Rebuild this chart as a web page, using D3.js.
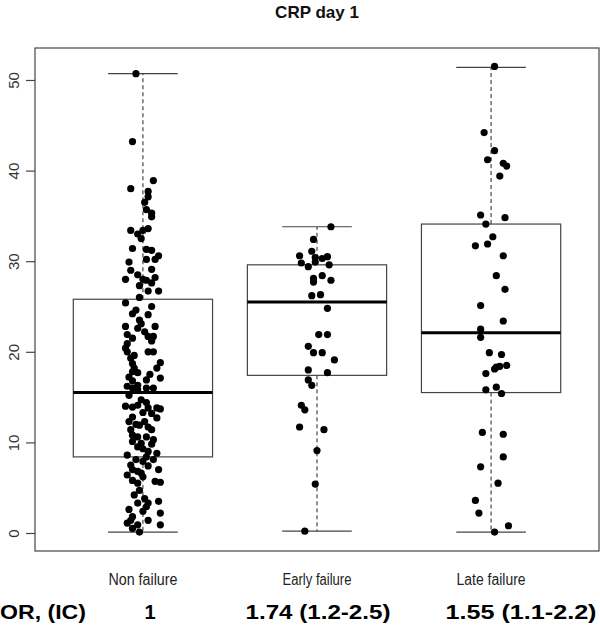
<!DOCTYPE html>
<html><head><meta charset="utf-8">
<script src="https://cdn.jsdelivr.net/npm/d3@7"></script>
<style>html,body{margin:0;padding:0;background:#fff;}</style>
</head><body>
<script>
const title = "CRP day 1";
const categories = ["Non failure", "Early failure", "Late failure"];
const orLabel = "OR, (IC)";
const orValues = ["1", "1.74 (1.2-2.5)", "1.55 (1.1-2.2)"];
const yTicks = [0, 10, 20, 30, 40, 50];

// box statistics: [lowerWhisker, q1, median, q3, upperWhisker]
const statsNon = [0.1, 8.4, 15.5, 25.8, 50.7];
const statsEarly = [0.2, 17.4, 25.5, 29.6, 33.8];
const statsLate = [0.1, 15.5, 22.1, 34.1, 51.4];

// jittered points: values and horizontal jitter (hundredths of a category unit)
const valuesNon = [50.7,43.2,38.9,38.0,37.7,37.1,36.5,35.7,35.3,34.9,33.4,33.6,33.4,33.0,32.5,31.4,31.3,31.2,30.2,30.6,30.2,29.9,29.0,28.5,29.1,28.0,28.0,27.9,28.2,27.3,26.7,26.7,26.0,25.4,25.0,24.2,24.1,23.5,23.1,22.8,22.8,22.6,21.9,21.7,21.7,21.5,21.2,20.9,20.4,20.0,20.0,20.0,19.3,18.7,18.8,18.2,18.2,17.8,17.7,17.2,16.9,17.1,16.8,16.3,16.2,16.0,16.0,16.0,15.8,14.7,14.0,13.9,14.1,13.8,13.8,13.7,13.3,13.2,12.8,12.7,12.3,12.3,11.9,11.7,11.4,11.4,10.8,10.6,10.6,10.1,9.9,9.8,9.5,9.3,9.0,8.6,8.8,8.4,8.1,8.1,7.9,7.5,7.4,7.0,6.8,7.0,6.4,6.2,5.8,5.7,5.5,5.6,4.7,3.8,3.3,3.3,3.5,2.9,2.4,2.2,1.8,1.4,1.1,0.9,0.9,0.5,0.1,1.4,27.6,24.6,22.2,19.6,17.5,15.2,14.4,12.0,10.3,6.6,4.2,2.6];
const jitterNon = [-4,-6,6,-7,3,3,1,2,5,5,-7,3,0,-3,-1,-6,2,5,2,9,7,-8,-7,-3,5,-10,0,2,7,-2,3,9,-2,-10,5,-6,3,-2,-1,-10,7,-3,-9,3,6,-6,5,-9,-10,-9,3,6,-7,-6,10,-5,8,-6,-3,-8,2,10,-6,-3,-9,-6,2,6,-3,-1,-10,-6,-3,3,8,10,0,5,-6,8,-8,1,-2,3,-7,5,-6,-3,2,-6,-1,5,-3,0,3,-9,8,2,-4,6,0,-7,3,-6,-3,9,-9,0,-6,7,-3,10,-2,1,-3,3,9,2,0,10,-6,3,-9,-3,10,-6,-2,-7,5,-4,1,-5,4,-8,2,-4,6,-1,-5,-8];
const valuesEarly = [33.8,32.4,31.1,30.6,30.4,30.3,30.5,29.8,29.4,29.9,29.6,28.1,28.4,27.9,27.7,26.2,26.3,24.8,21.9,21.9,20.6,19.9,19.9,19.1,18.0,17.7,16.9,16.3,14.1,13.6,11.7,11.4,9.1,5.4,0.2];
const jitterEarly = [8,-2,-3,-10,-1,3,6,-9,-5,-1,7,-2,3,8,-2,-3,2,6,1,6,-5,-2,3,10,-5,6,-5,-3,-9,-7,-10,4,0,-1,-7];
const valuesLate = [51.5,44.2,42.2,41.2,40.8,40.5,39.4,35.1,34.8,34.1,32.7,31.7,31.9,30.6,28.4,26.9,25.1,23.4,22.5,21.6,19.9,19.7,17.6,18.1,18.4,18.5,18.3,15.8,16.1,15.4,11.1,10.9,8.4,7.3,5.5,3.6,2.2,0.8,0.1];
const jitterLate = [2,-4,2,-2,7,9,5,-6,8,-3,1,-9,-2,7,3,8,-6,7,-6,-6,-1,6,-3,2,5,9,3,-3,3,6,-5,7,7,-6,4,-9,-7,10,2];

const groups = [
  {name: categories[0], stats: statsNon, values: valuesNon, jitter: jitterNon},
  {name: categories[1], stats: statsEarly, values: valuesEarly, jitter: jitterEarly},
  {name: categories[2], stats: statsLate, values: valuesLate, jitter: jitterLate}
];

const W = 600, H = 634;
const plot = {left: 35, right: 599, top: 48, bottom: 551};
const svg = d3.select("body").append("svg").attr("width", W).attr("height", H)
  .style("font-family", "'Liberation Sans', Arial, Helvetica, sans-serif");

const x = d3.scaleLinear().domain([0.38, 3.62]).range([plot.left, plot.right]);
const y = d3.scaleLinear().domain([0, 50]).range([533, 80]);

const lineCol = "#444";
// frame
svg.append("rect").attr("x", plot.left).attr("y", plot.top)
  .attr("width", plot.right - plot.left).attr("height", plot.bottom - plot.top)
  .attr("fill", "none").attr("stroke", lineCol).attr("stroke-width", 1.2);

// y axis
const yAxis = d3.axisLeft(y).tickValues(yTicks).tickSize(9).tickPadding(0).tickFormat(d3.format("d"));
const ya = svg.append("g").attr("transform", `translate(${plot.left},0)`).call(yAxis);
ya.select(".domain").remove();
ya.selectAll(".tick line").attr("stroke", lineCol).attr("stroke-width", 1.2);
ya.selectAll(".tick text").remove();
ya.selectAll(".tick").append("text")
  .attr("transform", "translate(-21,0) rotate(-90)")
  .attr("text-anchor", "middle").attr("dy", "0.35em")
  .attr("fill", "#333").style("font-size", "15px")
  .text(d => d);

// boxes
const bw = 0.4, cw = 0.2;
groups.forEach((g, i) => {
  const c = i + 1;
  const [lo, q1, med, q3, hi] = g.stats;
  const G = svg.append("g");
  G.append("line").attr("x1", x(c)).attr("x2", x(c)).attr("y1", y(q3)).attr("y2", y(hi))
    .attr("stroke", "#222").attr("stroke-dasharray", "4,3").attr("stroke-width", 1);
  G.append("line").attr("x1", x(c)).attr("x2", x(c)).attr("y1", y(q1)).attr("y2", y(lo))
    .attr("stroke", "#222").attr("stroke-dasharray", "4,3").attr("stroke-width", 1);
  [lo, hi].forEach(v => G.append("line").attr("x1", x(c - cw)).attr("x2", x(c + cw))
    .attr("y1", y(v)).attr("y2", y(v)).attr("stroke", lineCol).attr("stroke-width", 1.2));
  G.append("rect").attr("x", x(c - bw)).attr("y", y(q3)).attr("width", x(c + bw) - x(c - bw))
    .attr("height", y(q1) - y(q3)).attr("fill", "none").attr("stroke", lineCol).attr("stroke-width", 1.2);
  G.append("line").attr("x1", x(c - bw)).attr("x2", x(c + bw)).attr("y1", y(med)).attr("y2", y(med))
    .attr("stroke", "#000").attr("stroke-width", 3);
  G.selectAll("circle").data(g.values.map((v, k) => ({v, j: g.jitter[k]}))).enter()
    .append("circle").attr("cx", d => x(c + d.j / 100)).attr("cy", d => y(d.v))
    .attr("r", 3.6).attr("fill", "#000");
});

// category labels
groups.forEach((g, i) => {
  svg.append("text").attr("x", x(i + 1)).attr("y", 585).attr("text-anchor", "middle")
    .attr("fill", "#222").style("font-size", "16px")
    .attr("textLength", 69).attr("lengthAdjust", "spacingAndGlyphs")
    .text(g.name);
});

// title
svg.append("text").attr("x", (plot.left + plot.right) / 2).attr("y", 18).attr("text-anchor", "middle")
  .style("font-size", "17px").style("font-weight", "bold").attr("fill", "#111").text(title);

// OR row
const orRow = svg.append("g").style("font-weight", "bold").style("font-size", "20px").attr("fill", "#000");
orRow.append("text").attr("x", 0).attr("y", 619).attr("textLength", 86).attr("lengthAdjust", "spacingAndGlyphs").text(orLabel);
const orX = [150, 318, 521], orW = [0, 145, 151];
orValues.forEach((t, i) => {
  const tx = orRow.append("text").attr("x", orX[i]).attr("y", 619).attr("text-anchor", "middle").text(t);
  if (orW[i]) tx.attr("textLength", orW[i]).attr("lengthAdjust", "spacingAndGlyphs");
});
</script>
</body></html>
